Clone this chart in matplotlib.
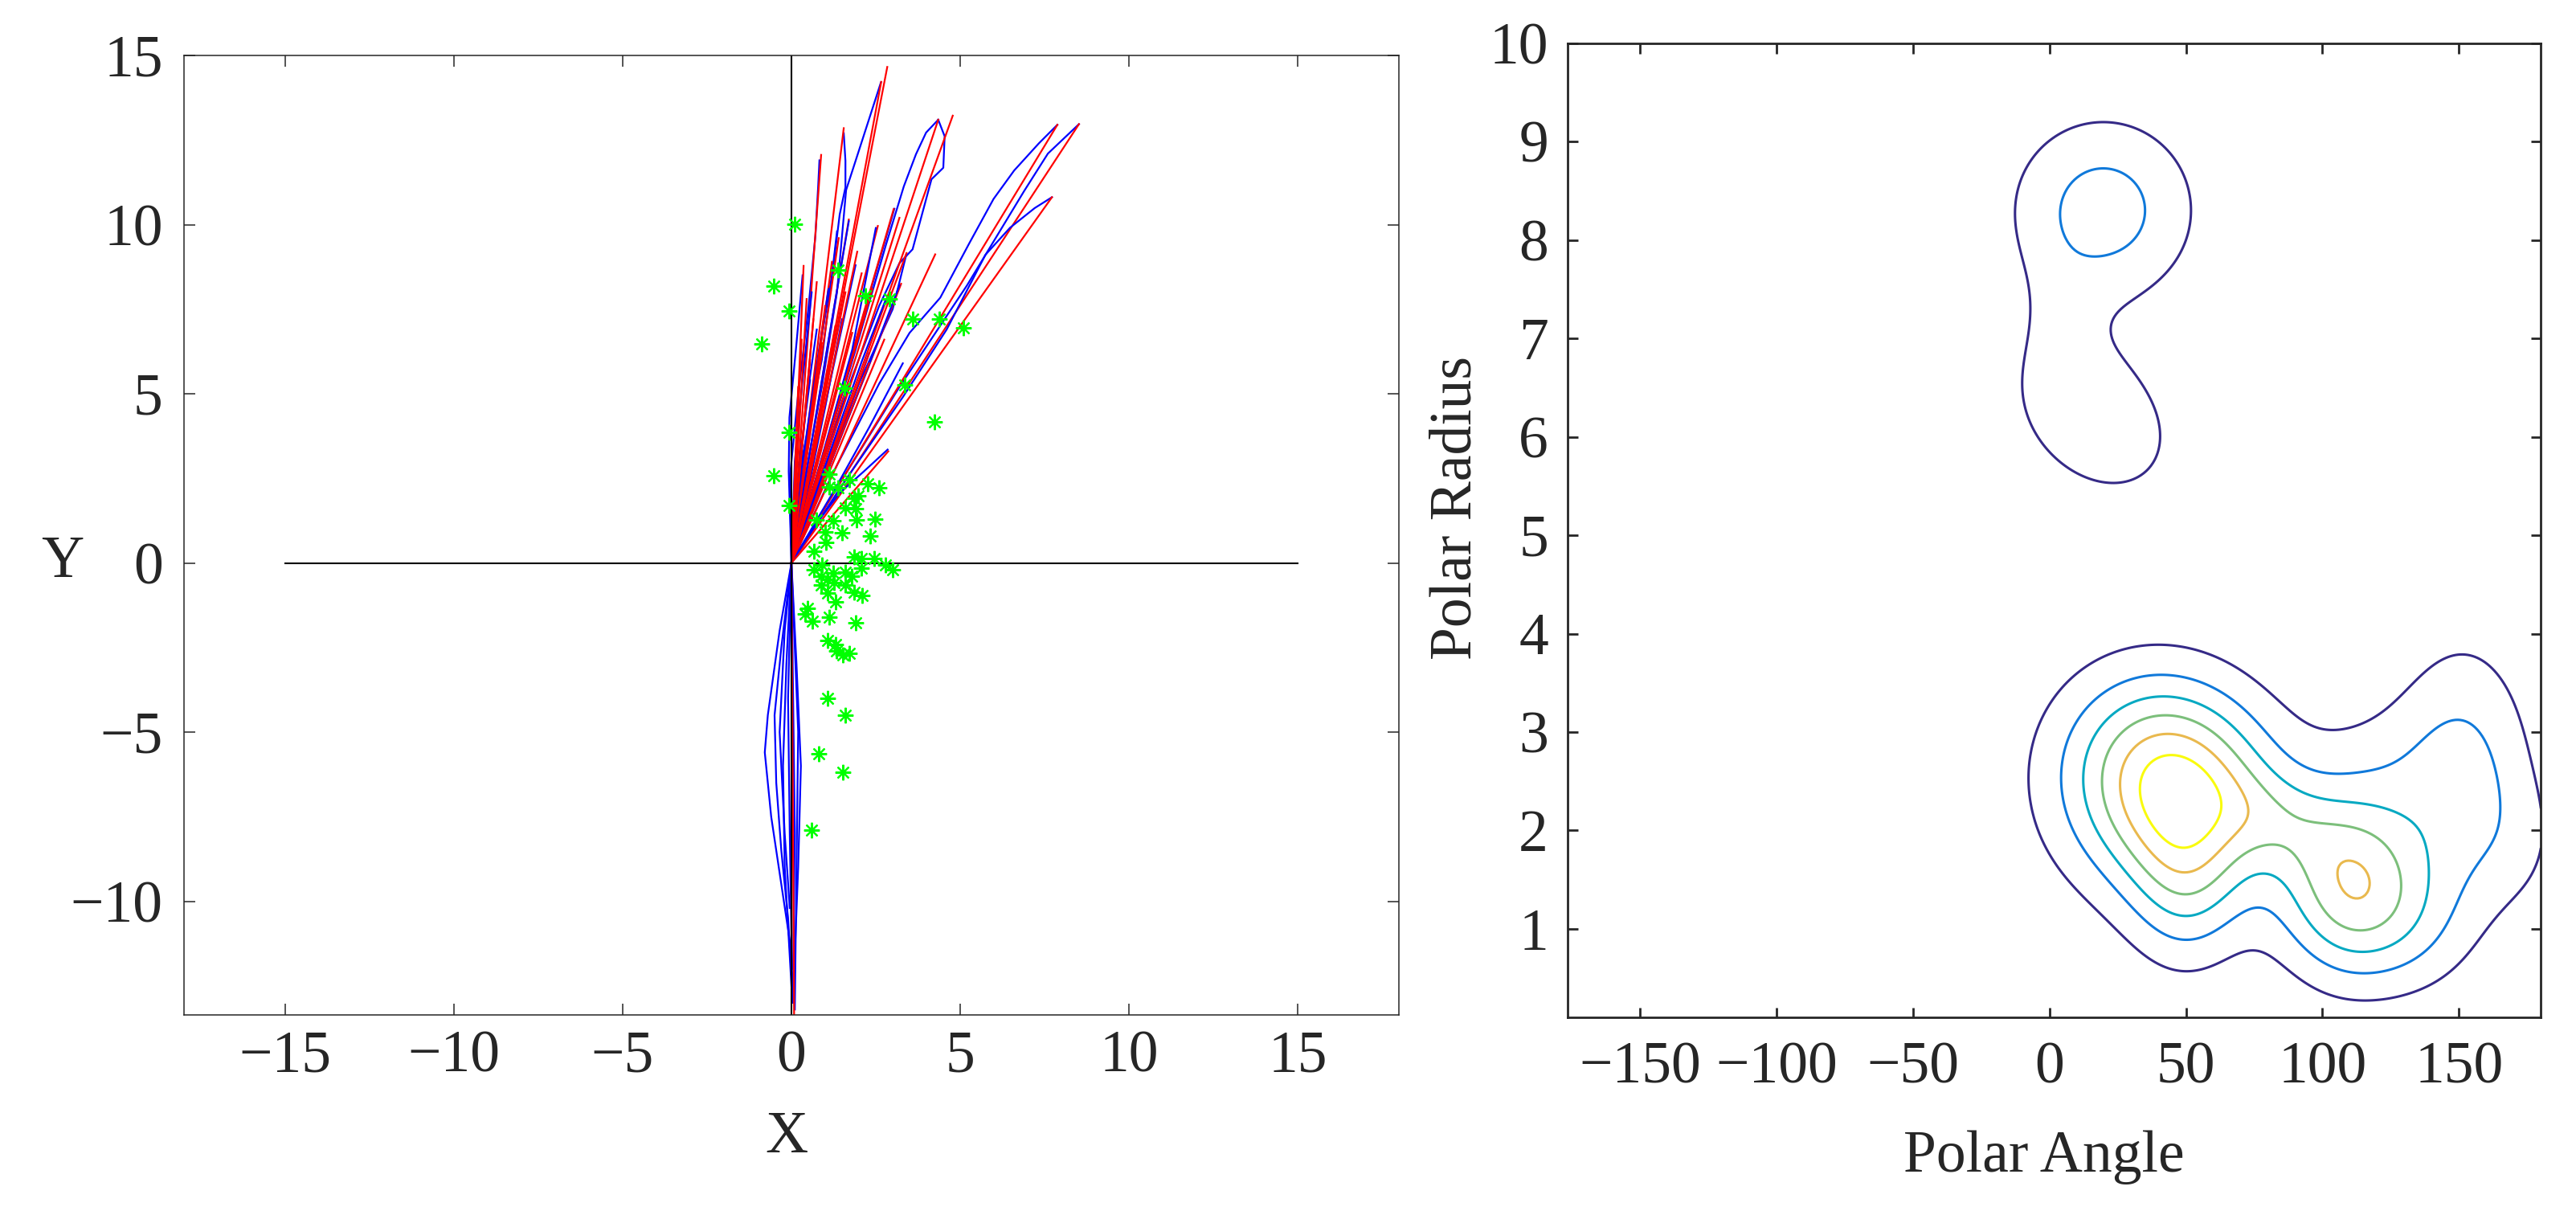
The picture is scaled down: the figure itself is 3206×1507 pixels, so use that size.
import numpy as np
import matplotlib
matplotlib.use('Agg')
import matplotlib.pyplot as plt

plt.rcParams['font.family'] = ['Liberation Serif', 'DejaVu Serif']
plt.rcParams['font.size'] = 26.5

W, H = 3206, 1507

# ==== left panel: trajectories ====
# red = straight line from the origin to the end point
red_x = [8.52, 7.88, 7.72, 4.78, 4.35, 2.84, 2.66, 1.55, 0.88, 0.36, 3.03, 3.20,
         2.56, 4.26, 3.25, 2.08, 3.41, 2.87, 1.70, 1.20, 1.40, 0.20, 0.30, 0.45,
         0.55, 0.65, 0.75, 0.90, 1.00, 1.10, 1.30, 1.60, 1.80, 1.95, 2.20, 2.30,
         2.40, 2.75, 0.08]
red_y = [12.97, 12.95, 10.81, 13.22, 13.10, 14.66, 14.22, 12.85, 12.06, 8.78, 10.46, 10.20,
         9.96, 9.12, 8.25, 8.56, 9.16, 3.30, 10.15, 8.90, 9.60, 5.20, 6.60, 7.80,
         6.00, 7.20, 8.30, 6.50, 7.60, 5.50, 7.00, 8.00, 6.80, 9.20, 7.40, 5.90,
         8.10, 6.60, -13.60]

# blue = measured tracks (x list, y list)
blue_tracks = [
    ([0, 1.4, 3.2, 5.2, 6.9, 7.6, 8.52], [0, 2.3, 5.2, 8.2, 11.0, 12.1, 12.97]),
    ([0, 1.2, 2.6, 3.5, 4.41, 5.26, 5.99, 6.6, 7.33, 7.88], [0, 2.6, 5.3, 6.8, 7.84, 9.43, 10.76, 11.6, 12.4, 12.95]),
    ([0, 1.5, 3.3, 4.6, 5.75, 6.48, 7.21, 7.72], [0, 2.3, 4.9, 6.9, 9.11, 9.91, 10.49, 10.81]),
    ([0, 0.8, 1.8, 2.6, 3.2, 3.59, 4.15, 4.5, 4.54, 4.35], [0, 2.6, 5.5, 7.6, 8.86, 9.27, 11.34, 11.68, 12.61, 13.1]),
    ([0, 0.9, 1.9, 2.8, 3.33, 3.69, 3.99, 4.35], [0, 3.0, 6.3, 9.4, 11.13, 12.08, 12.72, 13.1]),
    ([0, 0.4, 0.9, 1.35, 1.62, 2.1, 2.65], [0, 2.5, 5.2, 8.0, 11.02, 12.5, 14.2]),
    ([0, 0.3, 0.9, 1.43, 1.6, 1.6, 1.55], [0, 3.0, 6.0, 10.3, 11.1, 11.89, 12.7]),
    ([0, -0.05, 0.2, 0.5, 0.71, 0.79, 0.83], [0, 2.5, 5.0, 7.5, 9.67, 11.1, 11.9]),
    ([0, -0.08, -0.06, 0.15, 0.33], [0, 2.7, 4.3, 6.5, 8.5]),
    ([0, 0.71, 1.43, 2.14, 2.85], [0, 1.12, 2.07, 2.7, 3.35]),
    ([0, 1.0, 2.1, 3.05], [0, 3.4, 7.2, 10.47]),
    ([0, 0.9, 2.0, 3.0, 3.4], [0, 2.4, 5.3, 7.5, 9.1]),
    ([0, 0.3, 0.7, 1.2, 1.35], [0, 2.8, 5.5, 8.5, 9.8]),
    ([0, 0.5, 1.0, 1.5], [0, 2.2, 4.6, 7.2]),
    ([0, 0.2, 0.45, 0.75], [0, 2.2, 4.8, 6.9]),
    ([0, 0.8, 1.6, 2.3], [0, 2.0, 4.2, 6.2]),
    ([0, 0.6, 1.2, 1.9], [0, 2.8, 5.6, 8.8]),
    ([0, 1.3, 2.3, 3.3], [0, 2.2, 4.0, 5.9]),
    ([0, 0.1, 0.35, 0.6], [0, 3.0, 5.6, 8.0]),
    ([0, 0.7, 1.5, 2.1, 2.8], [0, 2.0, 4.3, 6.0, 7.8]),
    ([0, 0.45, 0.8, 1.1], [0, 3.5, 6.2, 8.1]),
    ([0, 0.15, 0.3, 0.55], [0, 1.5, 3.5, 5.4]),
    ([0, 0.9, 1.8, 2.5], [0, 3.1, 6.3, 9.9]),
    ([0, 1.1, 2.2, 3.2], [0, 2.8, 5.6, 8.2]),
    ([0, 0.55, 1.1, 1.7], [0, 3.3, 6.6, 10.1]),
    # tracks going down
    ([0, -0.35, -0.7, -0.79, -0.6, -0.3, 0.0, 0.05], [0, -2.0, -4.5, -5.6, -7.5, -9.5, -11.5, -13.0]),
    ([0, -0.3, -0.5, -0.45, -0.3, -0.1, 0.05], [0, -2.5, -4.5, -6.5, -8.5, -10.5, -13.0]),
    ([0, -0.15, -0.25, -0.2, 0.0], [0, -3.0, -6.0, -9.0, -12.5]),
    ([0, 0.15, 0.28, 0.2, 0.05], [0, -3.0, -6.0, -9.0, -12.8]),
    ([0, 0.05, 0.1, 0.05], [0, -4.0, -8.0, -12.0]),
    ([0, -0.1, -0.05, 0.0], [0, -4.0, -8.0, -11.0]),
    ([0, 0.2, 0.15, 0.1], [0, -5.0, -9.0, -13.2]),
    ([0, -0.2, -0.35, -0.2, -0.05], [0, -2.0, -5.0, -8.0, -10.2]),
]

star_x = [4.25, -0.08, -0.52, -0.08, 1.11, 1.13, 1.39, 1.71, 2.26, 2.60, 1.98, 1.59, 1.90, 1.92,
          2.48, 0.75, 1.23, 0.99, 1.50, 2.34, 1.03, 0.67, 1.86, 2.08, 2.46, 2.78, 3.00, 0.67,
          0.90, 1.23, 1.59, 1.79, 2.07, 0.87, 1.07, 0.87, 1.27, 1.59, 1.07, 1.86, 2.10, 1.32,
          0.48, 0.40, 0.63, 1.11, 1.90, 1.06, 1.32, 1.34, 1.52, 1.71, 1.06, 1.59, 0.82, 1.52,
          0.60, 0.10, -0.52, -0.06, -0.89, 1.38, 2.20, 2.90, 3.60, 4.38, 5.10, 1.58, 3.36, 1.86]
star_y = [4.17, 3.85, 2.58, 1.69, 2.63, 2.24, 2.21, 2.47, 2.35, 2.23, 1.99, 1.63, 1.60, 1.28,
          1.29, 1.28, 1.25, 0.92, 0.89, 0.80, 0.61, 0.34, 0.19, 0.14, 0.14, -0.05, -0.21, -0.19,
          -0.07, -0.30, -0.28, -0.40, -0.15, -0.40, -0.48, -0.66, -0.58, -0.66, -0.90, -0.86, -0.97, -1.16,
          -1.33, -1.50, -1.71, -1.60, -1.77, -2.28, -2.40, -2.60, -2.72, -2.68, -4.01, -4.50, -5.65, -6.18,
          -7.89, 10.02, 8.19, 7.44, 6.48, 8.66, 7.90, 7.80, 7.20, 7.20, 6.94, 5.16, 5.26, 1.91]

# ==== right panel: density bumps ====
bump_ang = [44.8, 111.0, 84.0, 152.0, 120.0, 175.0, 40.0, 50.0, 135.0, 19.7, 16.0, 3.0]
bump_rad = [2.46, 1.40, 2.10, 2.50, 2.50, 1.85, 2.20, 1.45, 1.00, 8.30, 6.20, 7.20]
bump_sa = [25.0, 18.0, 16.0, 18.0, 20.0, 12.0, 50.0, 14.0, 15.0, 24.0, 22.0, 10.0]
bump_sr = [0.72, 0.62, 0.35, 1.00, 0.60, 0.50, 1.10, 0.60, 0.50, 0.67, 0.60, 0.45]
bump_rho = [-0.1, 0.0, -0.3, 0.0, 0.0, 0.0, 0.0, 0.0, 0.0, 0.0, -0.3, 0.0]
bump_w = [5.8, 4.38, 1.35, 2.2, 0.8, 0.5, 0.6, 1.8, 0.8, 2.45, 1.85, 0.45]
levels = [1, 2, 3, 4, 5, 6]
level_colors = ['#352a87', '#1079da', '#07a9c2', '#7cbf7b', '#e9b94e', '#f9fb0e']
ang_lim = (-176.6, 180.0)
rad_lim = (0.104, 10.0)

fig = plt.figure(figsize=(W / 200, H / 200), dpi=200)


def box(l, t, r, b):
    return [l / W, 1 - b / H, (r - l) / W, (b - t) / H]


axc = '#262626'

# ---- left ----
ax1 = fig.add_axes(box(229, 69, 1741, 1263))
n = max(len(blue_tracks), len(red_x))
for i in range(n):
    if i < len(blue_tracks):
        bx, by = blue_tracks[i]
        ax1.plot(bx, by, color='#0000ff', lw=0.8)
    if i < len(red_x):
        ax1.plot([0, red_x[i]], [0, red_y[i]], color='#ff0000', lw=0.8)
ax1.plot([-15, 15], [0, 0], color='k', lw=0.75)
ax1.plot([0, 0], [-15, 15], color='k', lw=0.75)
ax1.plot(star_x, star_y, ls='none', marker=(8, 2, 0), ms=7, mew=0.8, color='#00ff00')
ax1.set_xlim(-18, 18)
ax1.set_ylim(-13.36, 15)
ax1.set_xticks(range(-15, 16, 5))
ax1.set_yticks(range(-10, 16, 5))
ax1.tick_params(direction='in', length=5, width=0.55, colors=axc, top=True, right=True,
                labelcolor=axc)
ax1.tick_params(axis='x', pad=7)
ax1.tick_params(axis='y', pad=9.5)
for s in ax1.spines.values():
    s.set_linewidth(0.55)
    s.set_color(axc)

# ---- right ----
ax2 = fig.add_axes(box(1950.7, 53.6, 3162.3, 1265.7))
A, R = np.meshgrid(np.linspace(ang_lim[0], ang_lim[1], 400), np.linspace(rad_lim[0], rad_lim[1], 400))
Z = np.zeros_like(A)
for ca, cr, sa, sr, rho, w in zip(bump_ang, bump_rad, bump_sa, bump_sr, bump_rho, bump_w):
    za = (A - ca) / sa
    zr = (R - cr) / sr
    Z += w * np.exp(-(za ** 2 - 2 * rho * za * zr + zr ** 2) / (2 * (1 - rho ** 2)))
ax2.contour(A, R, Z, levels=levels, colors=level_colors, linewidths=1.1)
ax2.set_xlim(*ang_lim)
ax2.set_ylim(*rad_lim)
ax2.set_xticks(range(-150, 151, 50))
ax2.set_yticks(range(1, 11))
ax2.tick_params(direction='in', length=4.5, width=1.0, colors=axc, top=True, right=True,
                labelcolor=axc)
ax2.tick_params(axis='x', pad=11)
ax2.tick_params(axis='y', pad=8.5)
for s in ax2.spines.values():
    s.set_linewidth(1.0)
    s.set_color(axc)

# ---- labels ----
fig.text(979 / W, 1 - 1416 / H, 'X', ha='center', va='center', color=axc)
fig.text(78 / W, 1 - 700 / H, 'Y', ha='center', va='center', color=axc)
fig.text(2544 / W, 1 - 1440 / H, 'Polar Angle', ha='center', va='center', color=axc)
fig.text(1813 / W, 1 - 632 / H, 'Polar Radius', ha='center', va='center', rotation=90, color=axc)

fig.savefig('out.png', dpi=200)
